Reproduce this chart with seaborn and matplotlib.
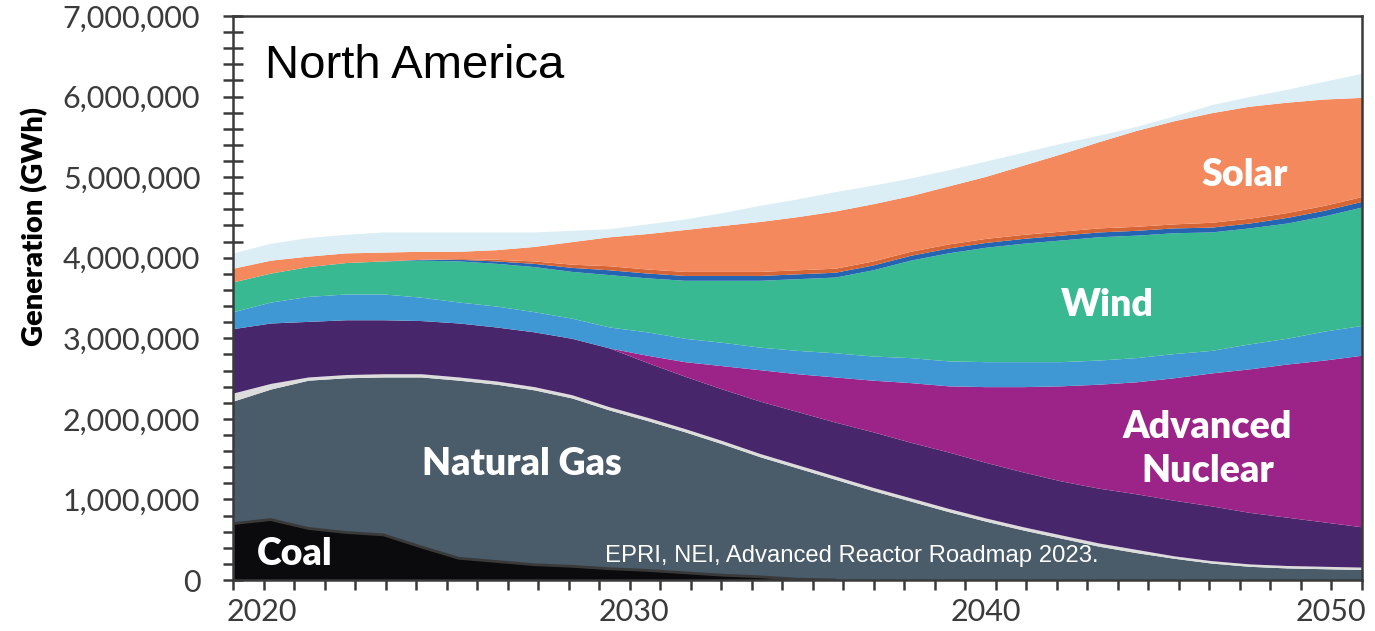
import numpy as np
import matplotlib
matplotlib.use('Agg')
import matplotlib.pyplot as plt
import seaborn as sns

# generation by source, million GWh
years = np.arange(2020, 2051)

coal = [0.70, 0.75, 0.64, 0.59, 0.56, 0.41, 0.27, 0.23, 0.19, 0.17, 0.14,
        0.12, 0.09, 0.06, 0.04, 0.01, 0, 0, 0, 0, 0,
        0, 0, 0, 0, 0, 0, 0, 0, 0, 0]
natural_gas = [1.52, 1.62, 1.84, 1.92, 1.96, 2.11, 2.21, 2.20, 2.17, 2.09, 1.97,
               1.86, 1.75, 1.63, 1.49, 1.38, 1.25, 1.11, 0.98, 0.85, 0.73,
               0.62, 0.52, 0.42, 0.34, 0.27, 0.21, 0.17, 0.15, 0.14, 0.13]
oil_other = [0.10, 0.07, 0.04, 0.04, 0.04, 0.04, 0.04, 0.04, 0.04, 0.04, 0.04,
             0.04, 0.04, 0.04, 0.04, 0.04, 0.04, 0.04, 0.04, 0.04, 0.04,
             0.04, 0.04, 0.04, 0.04, 0.03, 0.03, 0.03, 0.03, 0.03, 0.03]
existing_nuclear = [0.80, 0.75, 0.69, 0.68, 0.67, 0.66, 0.67, 0.67, 0.68, 0.70, 0.73,
                    0.68, 0.65, 0.64, 0.65, 0.66, 0.67, 0.69, 0.69, 0.70, 0.69,
                    0.68, 0.67, 0.68, 0.69, 0.69, 0.68, 0.64, 0.60, 0.55, 0.50]
advanced_nuclear = [0, 0, 0, 0, 0, 0, 0, 0, 0, 0, 0,
                    0.09, 0.18, 0.29, 0.39, 0.47, 0.56, 0.64, 0.74, 0.82, 0.94,
                    1.06, 1.18, 1.29, 1.39, 1.52, 1.65, 1.78, 1.90, 2.01, 2.13]
hydro = [0.21, 0.26, 0.31, 0.32, 0.32, 0.29, 0.26, 0.26, 0.25, 0.25, 0.26,
         0.29, 0.29, 0.29, 0.28, 0.29, 0.30, 0.30, 0.31, 0.31, 0.31,
         0.31, 0.30, 0.30, 0.30, 0.30, 0.28, 0.31, 0.32, 0.36, 0.37]
wind = [0.37, 0.36, 0.37, 0.39, 0.41, 0.46, 0.51, 0.53, 0.56, 0.58, 0.65,
        0.67, 0.72, 0.77, 0.83, 0.89, 0.94, 1.07, 1.21, 1.34, 1.42,
        1.47, 1.51, 1.53, 1.52, 1.50, 1.47, 1.44, 1.43, 1.43, 1.47]
storage = [0, 0, 0, 0, 0, 0.01, 0.02, 0.03, 0.04, 0.05, 0.06,
           0.06, 0.06, 0.06, 0.06, 0.06, 0.06, 0.06, 0.06, 0.06, 0.06,
           0.06, 0.06, 0.06, 0.06, 0.06, 0.06, 0.06, 0.07, 0.07, 0.07]
biomass_geo = [0, 0, 0, 0, 0, 0, 0.01, 0.02, 0.03, 0.04, 0.05,
               0.05, 0.05, 0.05, 0.05, 0.05, 0.05, 0.05, 0.05, 0.05, 0.05,
               0.05, 0.05, 0.05, 0.05, 0.05, 0.06, 0.06, 0.06, 0.06, 0.06]
solar = [0.17, 0.16, 0.13, 0.12, 0.11, 0.10, 0.09, 0.12, 0.18, 0.28, 0.36,
         0.44, 0.52, 0.57, 0.62, 0.66, 0.71, 0.71, 0.69, 0.72, 0.77,
         0.86, 0.96, 1.07, 1.19, 1.28, 1.36, 1.39, 1.37, 1.32, 1.23]
imports = [0.19, 0.21, 0.23, 0.23, 0.25, 0.24, 0.24, 0.22, 0.18, 0.14, 0.10,
           0.12, 0.13, 0.16, 0.20, 0.22, 0.24, 0.23, 0.22, 0.20, 0.19,
           0.16, 0.13, 0.08, 0.05, 0.06, 0.10, 0.12, 0.16, 0.22, 0.30]

colors = ['#0b0b0d', '#4a5b69', '#dcdcdc', '#48266c', '#9c2488', '#3f97d3',
          '#38b992', '#2464b0', '#d66535', '#f4895e', '#dbedf5']

layers = [coal, natural_gas, oil_other, existing_nuclear, advanced_nuclear,
          hydro, wind, storage, biomass_geo, solar, imports]
layers = [np.array(l) * 1e6 for l in layers]

sns.set_theme(style='ticks')
plt.rcParams['font.family'] = ['Lato', 'DejaVu Sans']

fig = plt.figure(figsize=(13.75, 6.31), dpi=100)
ax = fig.add_axes([233 / 1375, 51 / 631, 1129 / 1375, 564 / 631])

ax.stackplot(years, *layers, colors=colors, linewidth=0)
sns.lineplot(x=years[:17], y=layers[0][:17], color='#3a3a3a', linewidth=2, ax=ax)

ax.set_xlim(2020, 2050)
ax.set_ylim(0, 7000000)

yt = np.arange(0, 7000001, 1000000)
ax.set_yticks(yt, labels=['{:,}'.format(int(v)) for v in yt])
ax.set_yticks(np.arange(0, 7000001, 200000), minor=True)
ax.tick_params(axis='y', which='both', direction='inout', length=15, width=1.8,
               color='#3a3a3a', pad=16, labelsize=22, labelcolor='#3b3b3b')

# minor tick marks along the year axis, labels placed as in the original
ax.set_xticks(np.linspace(2020, 2050, 38), minor=True)
ax.set_xticks([2020.77, 2030.66, 2040.0, 2049.18], labels=['2020', '2030', '2040', '2050'])
ax.tick_params(axis='x', which='minor', direction='out', length=7, width=1.8, color='#3a3a3a')
ax.tick_params(axis='x', which='major', length=0, pad=13, labelsize=22, labelcolor='#3b3b3b')

for s in ax.spines.values():
    s.set_visible(True)
    s.set_linewidth(1.8)
    s.set_color('#3a3a3a')

fig.text(35 / 1375, 1 - 226 / 631, 'Generation (GWh)', rotation=90, fontweight='heavy',
         fontsize=21, ha='center', va='center', color='black')
fig.text(265 / 1375, 1 - 78 / 631, 'North America', family='Liberation Sans',
         fontsize=34, va='baseline', color='black')
fig.text(605 / 1375, 1 - 562 / 631, 'EPRI, NEI, Advanced Reactor Roadmap 2023.',
         family='Liberation Sans', fontsize=17.2, va='baseline', color='white')

lab = dict(color='white', fontweight='heavy', fontsize=27, ha='center', va='center')
ax.text(2027.68, 1440000, 'Natural Gas', **lab)
ax.text(2021.65, 320000, 'Coal', **lab)
ax.text(2043.23, 3410000, 'Wind', **lab)
ax.text(2046.89, 5030000, 'Solar', **lab)
ax.text(2045.89, 1900000, 'Advanced', **lab)
ax.text(2045.89, 1350000, 'Nuclear', **lab)

fig.savefig('out.png', dpi=100)
